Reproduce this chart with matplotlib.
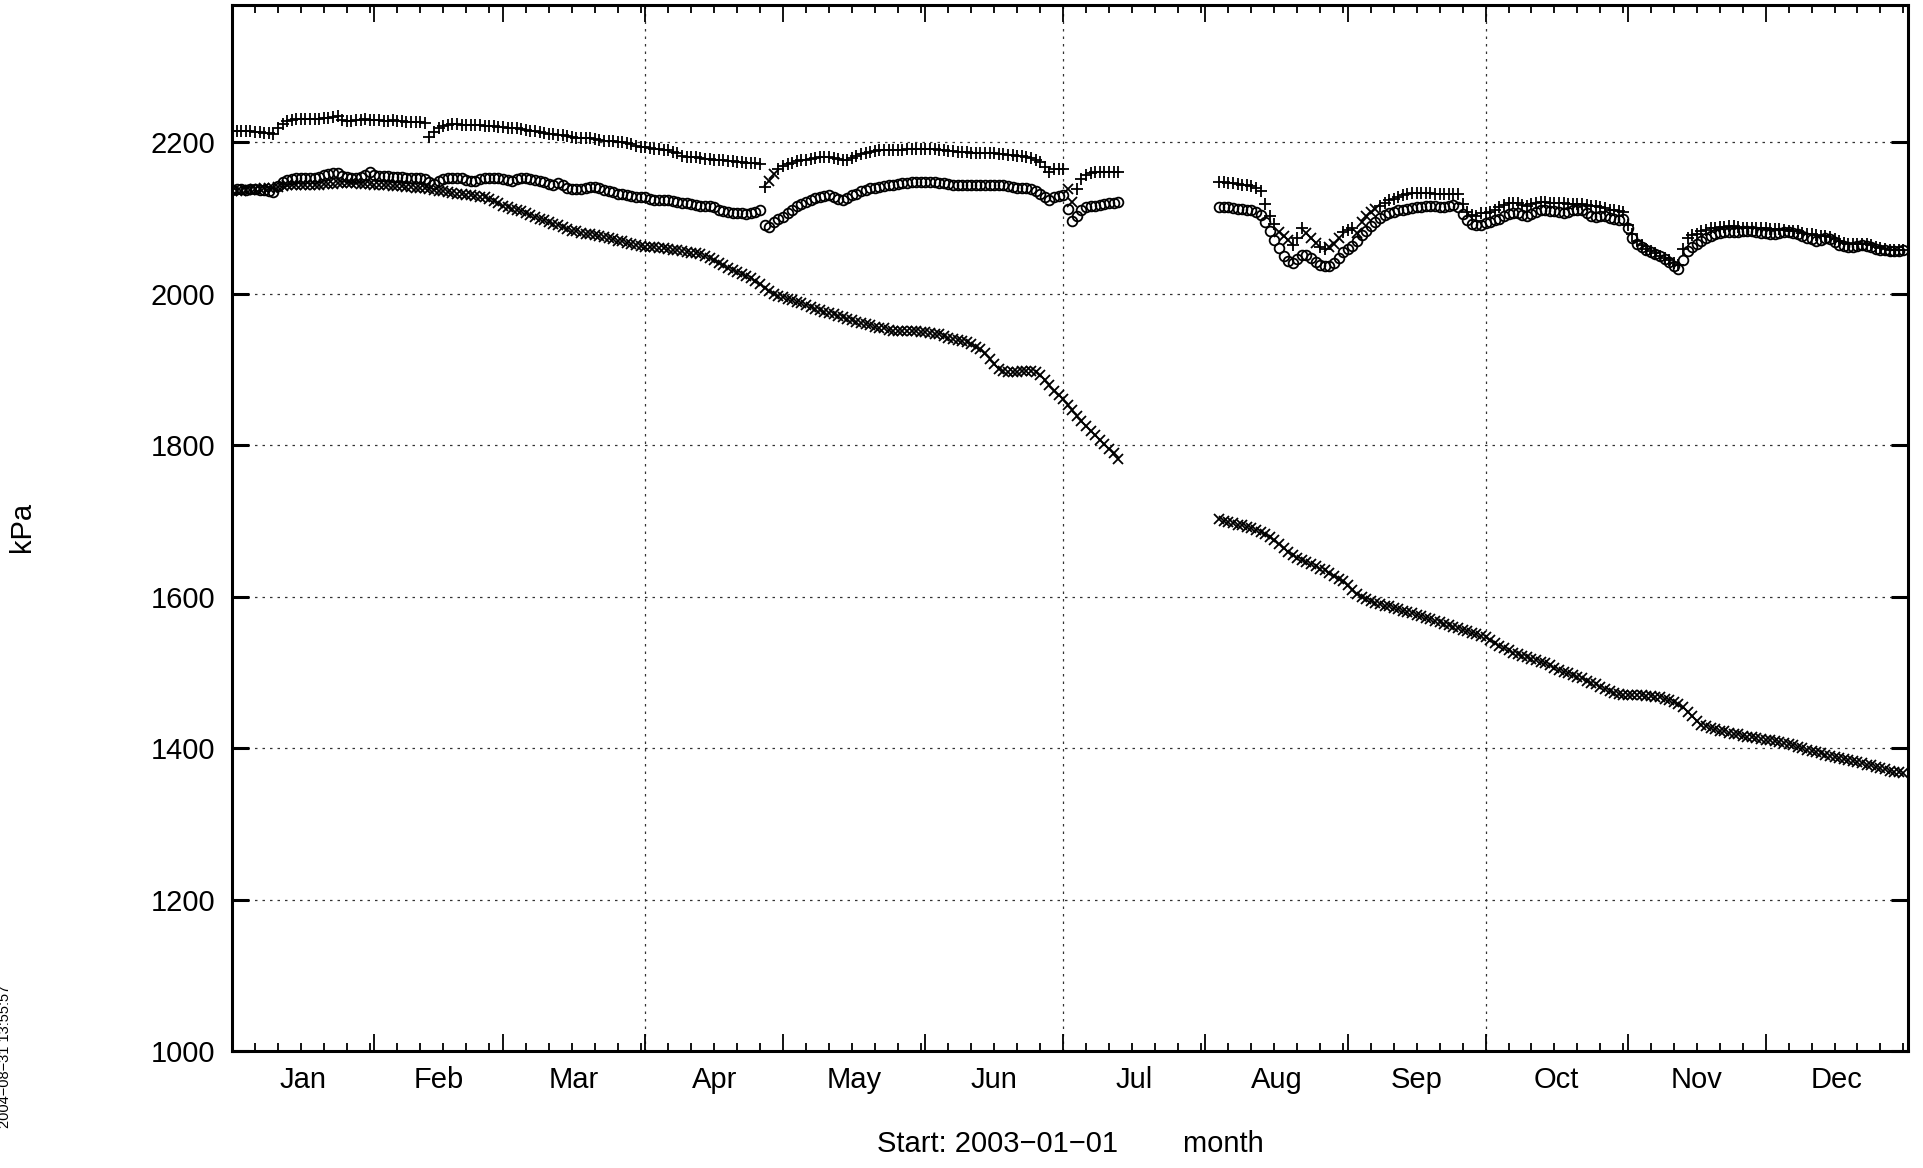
import numpy as np
import matplotlib
matplotlib.use("Agg")
import matplotlib.pyplot as plt
import matplotlib.dates as mdates
import matplotlib.transforms as mtransforms

plt.rcParams['font.family'] = ['Liberation Sans', 'DejaVu Sans']

N = None
# daily values, 2003-01-01 .. 2003-12-31
plus_series = (
    [2214, 2214, 2215, 2214, 2214, 2213, 2213, 2212, 2212, 2211, 2218, 2224, 2228, 2229, 2230, 2230, 2231, 2230, 2231, 2231, 2232, 2232, 2233, 2235, 2229, 2228, 2228, 2229, 2229, 2230, 2229]
    + [2229, 2229, 2228, 2228, 2229, 2228, 2228, 2227, 2227, 2227, 2226, 2225, 2207, 2213, 2218, 2221, 2223, 2224, 2224, 2223, 2222, 2222, 2223, 2222, 2221, 2221, 2221, 2220]
    + [2220, 2219, 2219, 2218, 2217, 2216, 2215, 2214, 2213, 2212, 2211, 2211, 2210, 2209, 2208, 2207, 2206, 2206, 2206, 2205, 2204, 2203, 2202, 2201, 2201, 2200, 2200, 2199, 2197, 2195, 2194]
    + [2193, 2192, 2191, 2191, 2190, 2189, 2187, 2185, 2182, 2180, 2180, 2180, 2179, 2178, 2178, 2177, 2176, 2176, 2175, 2175, 2174, 2174, 2173, 2172, 2172, 2171, 2141, N, N, 2165]
    + [2168, 2171, 2173, 2175, 2176, 2177, 2178, 2179, 2180, 2180, 2180, 2179, 2178, 2177, 2177, 2179, 2182, 2184, 2186, 2187, 2188, 2189, 2189, 2189, 2189, 2190, 2190, 2191, 2191, 2191, 2191]
    + [2191, 2191, 2191, 2190, 2189, 2188, 2188, 2187, 2187, 2187, 2186, 2186, 2186, 2186, 2185, 2185, 2184, 2184, 2183, 2183, 2182, 2181, 2180, 2179, 2177, 2174, 2167, 2160, 2165, 2165]
    + [2165, N, N, 2138, 2151, 2157, 2159, 2160, 2160, 2160, 2161, 2161, 2161] + [N] * 18
    + [N, N, N, 2147, 2147, 2146, 2146, 2145, 2144, 2143, 2142, 2140, 2136, 2118, 2103, 2092, N, N, N, 2064, 2074, 2087, N, N, N, 2062, 2059, N, N, N, 2081]
    + [2084, 2087, N, N, N, N, N, 2116, 2120, 2123, 2125, 2127, 2130, 2131, 2133, 2133, 2133, 2133, 2133, 2132, 2132, 2132, 2131, 2131, 2132, 2118, 2108, 2104, 2103, 2106]
    + [2106, 2108, 2111, 2114, 2117, 2119, 2119, 2119, 2117, 2115, 2118, 2120, 2121, 2121, 2120, 2120, 2120, 2119, 2118, 2118, 2118, 2118, 2117, 2115, 2115, 2114, 2113, 2111, 2110, 2109, 2108]
    + [2090, 2078, 2070, 2064, 2059, 2056, 2053, 2050, 2047, 2044, 2040, 2038, 2059, 2073, 2077, 2079, 2083, 2084, 2086, 2087, 2088, 2088, 2089, 2089, 2088, 2087, 2087, 2086, 2086, 2086]
    + [2086, 2085, 2085, 2085, 2084, 2083, 2083, 2082, 2080, 2079, 2078, 2077, 2076, 2076, 2075, 2072, 2069, 2067, 2066, 2066, 2066, 2065, 2065, 2064, 2062, 2060, 2059, 2058, 2058, 2058, 2057]
)

circle_series = (
    [2137, 2138, 2138, 2137, 2138, 2138, 2137, 2137, 2136, 2134, 2142, 2147, 2150, 2151, 2152, 2152, 2152, 2153, 2153, 2154, 2156, 2158, 2159, 2159, 2155, 2154, 2153, 2153, 2154, 2156, 2160]
    + [2156, 2155, 2155, 2155, 2154, 2154, 2154, 2153, 2153, 2153, 2152, 2151, 2147, 2145, 2148, 2151, 2153, 2153, 2153, 2152, 2150, 2149, 2149, 2151, 2153, 2153, 2153, 2152]
    + [2151, 2150, 2149, 2151, 2152, 2152, 2151, 2150, 2149, 2147, 2145, 2143, 2146, 2143, 2139, 2138, 2138, 2138, 2139, 2141, 2141, 2139, 2137, 2135, 2134, 2132, 2131, 2130, 2129, 2128, 2128]
    + [2127, 2125, 2124, 2124, 2123, 2123, 2122, 2121, 2120, 2119, 2118, 2117, 2116, 2115, 2115, 2114, 2111, 2109, 2108, 2107, 2106, 2106, 2105, 2106, 2108, 2110, 2090, 2088, 2094, 2098]
    + [2101, 2106, 2110, 2115, 2118, 2121, 2124, 2126, 2127, 2129, 2130, 2128, 2125, 2124, 2126, 2130, 2132, 2135, 2137, 2139, 2140, 2141, 2142, 2143, 2144, 2145, 2146, 2146, 2147, 2147, 2147]
    + [2147, 2147, 2147, 2146, 2146, 2145, 2144, 2144, 2143, 2143, 2143, 2143, 2143, 2143, 2143, 2143, 2143, 2143, 2142, 2141, 2140, 2140, 2139, 2138, 2136, 2132, 2127, 2124, 2127, 2129]
    + [2130, 2112, 2096, 2102, 2110, 2114, 2115, 2116, 2117, 2118, 2119, 2120, 2121] + [N] * 18
    + [N, N, N, 2114, 2114, 2114, 2113, 2112, 2112, 2111, 2110, 2108, 2104, 2095, 2082, 2071, 2060, 2050, 2043, 2040, 2046, 2051, 2051, 2047, 2042, 2038, 2036, 2037, 2040, 2047, 2055]
    + [2059, 2063, 2070, 2077, 2083, 2089, 2095, 2100, 2104, 2106, 2108, 2110, 2111, 2112, 2113, 2114, 2114, 2115, 2115, 2115, 2114, 2114, 2115, 2117, 2114, 2105, 2097, 2092, 2090, 2091]
    + [2093, 2095, 2097, 2099, 2102, 2105, 2106, 2106, 2104, 2103, 2105, 2108, 2110, 2110, 2109, 2109, 2108, 2106, 2108, 2110, 2110, 2110, 2106, 2102, 2101, 2102, 2103, 2100, 2098, 2097, 2099]
    + [2086, 2074, 2066, 2062, 2058, 2055, 2052, 2049, 2046, 2042, 2037, 2033, 2044, 2056, 2062, 2065, 2070, 2073, 2076, 2078, 2080, 2081, 2081, 2081, 2081, 2082, 2083, 2082, 2081, 2080]
    + [2080, 2079, 2079, 2080, 2081, 2081, 2080, 2078, 2076, 2074, 2072, 2070, 2071, 2073, 2072, 2068, 2064, 2063, 2062, 2062, 2063, 2064, 2063, 2061, 2059, 2058, 2057, 2056, 2056, 2056, 2057]
)

cross_series = (
    [2135, 2136, 2136, 2137, 2137, 2138, 2138, 2139, 2139, 2140, 2141, 2142, 2143, 2143, 2143, 2144, 2144, 2144, 2144, 2144, 2145, 2145, 2145, 2146, 2146, 2146, 2146, 2146, 2145, 2145, 2145]
    + [2144, 2144, 2143, 2143, 2142, 2142, 2142, 2141, 2141, 2140, 2140, 2139, 2138, 2137, 2136, 2135, 2134, 2133, 2132, 2131, 2130, 2130, 2129, 2128, 2127, 2125, 2122, 2119]
    + [2116, 2114, 2112, 2111, 2109, 2107, 2104, 2101, 2099, 2097, 2094, 2092, 2090, 2088, 2085, 2083, 2082, 2080, 2079, 2078, 2077, 2076, 2075, 2074, 2072, 2070, 2069, 2067, 2066, 2064, 2063]
    + [2062, 2062, 2061, 2060, 2060, 2059, 2058, 2057, 2056, 2055, 2054, 2053, 2052, 2050, 2047, 2044, 2041, 2038, 2034, 2031, 2028, 2026, 2023, 2020, 2016, 2012, 2008, 2004, 2000, 1997]
    + [1995, 1993, 1991, 1989, 1987, 1985, 1982, 1980, 1978, 1976, 1974, 1973, 1971, 1969, 1967, 1965, 1963, 1961, 1960, 1958, 1956, 1955, 1954, 1952, 1951, 1950, 1950, 1950, 1950, 1950, 1949]
    + [1949, 1948, 1947, 1946, 1944, 1941, 1940, 1939, 1937, 1936, 1933, 1930, 1927, 1921, 1914, 1907, 1901, 1898, 1897, 1896, 1897, 1898, 1898, 1898, 1896, 1892, 1886, 1879, 1872, 1866]
    + [1861, 1853, 1846, 1839, 1832, 1825, 1819, 1813, 1807, 1801, 1795, 1789, 1782] + [N] * 18
    + [N, N, N, 1702, 1700, 1698, 1697, 1695, 1694, 1692, 1690, 1688, 1685, 1682, 1678, 1674, 1670, 1664, 1659, 1655, 1651, 1648, 1646, 1643, 1640, 1637, 1635, 1631, 1627, 1623, 1620]
    + [1615, 1609, 1604, 1600, 1597, 1594, 1592, 1590, 1588, 1587, 1585, 1583, 1581, 1580, 1578, 1576, 1574, 1572, 1570, 1568, 1566, 1564, 1562, 1560, 1558, 1556, 1554, 1552, 1550, 1548]
    + [1547, 1543, 1539, 1535, 1532, 1529, 1526, 1524, 1522, 1520, 1518, 1516, 1514, 1512, 1509, 1506, 1503, 1501, 1499, 1497, 1494, 1492, 1489, 1486, 1484, 1481, 1478, 1475, 1472, 1471, 1470]
    + [1470, 1470, 1470, 1470, 1469, 1469, 1468, 1467, 1465, 1463, 1461, 1458, 1454, 1448, 1442, 1436, 1431, 1429, 1427, 1425, 1423, 1422, 1420, 1419, 1418, 1416, 1415, 1414, 1413, 1412]
    + [1411, 1410, 1409, 1408, 1406, 1405, 1404, 1402, 1400, 1398, 1396, 1395, 1393, 1391, 1390, 1388, 1387, 1385, 1384, 1383, 1382, 1380, 1378, 1377, 1375, 1373, 1372, 1370, 1369, 1368, 1367]
)

# scattered x-marked readings near the upper curve
extra_dates = ['2003-04-28', '2003-04-29', '2003-07-02', '2003-07-03',
               '2003-08-17', '2003-08-18', '2003-08-19', '2003-08-23', '2003-08-24', '2003-08-25',
               '2003-08-28', '2003-08-29', '2003-08-30',
               '2003-09-03', '2003-09-04', '2003-09-05', '2003-09-06', '2003-09-07']
extra_values = [2149, 2158, 2138, 2121,
                2081, 2076, 2071, 2080, 2074, 2067,
                2062, 2066, 2074,
                2080, 2095, 2102, 2108, 2112]

month_names = ['Jan', 'Feb', 'Mar', 'Apr', 'May', 'Jun', 'Jul', 'Aug', 'Sep', 'Oct', 'Nov', 'Dec']
y_ticks = [1000, 1200, 1400, 1600, 1800, 2000, 2200]
grid_dates = ['2003-04-01', '2003-07-01', '2003-10-01']

days = np.arange('2003-01-01', '2004-01-01', dtype='datetime64[D]')
def arr(lst):
    a = np.array([np.nan if v is None else v for v in lst], dtype=float)
    n = len(days)
    if len(a) < n:
        a = np.concatenate([a, np.full(n - len(a), np.nan)])
    return a[:n]

def dnum(a):
    return mdates.date2num(np.asarray(a, dtype='datetime64[D]').astype('datetime64[s]').astype(object))

P = arr(plus_series)
C = arr(circle_series)
X = arr(cross_series)
xd = dnum(days)

W, H = 1923, 1168
fig = plt.figure(figsize=(W / 100, H / 100), dpi=100)
L, R, T, B = 232, 1908, 5, 1051
ax = fig.add_axes([L / W, 1 - B / H, (R - L) / W, (B - T) / H])

mk = dict(linestyle='none', color='black', markeredgewidth=1.3, clip_on=True)
ax.plot(xd, P, marker='+', markersize=8, **mk)
ax.plot(xd, X, marker='x', markersize=6.5, **mk)
ax.plot(xd, C, marker='o', markersize=7, markerfacecolor='none', **mk)
ax.plot(dnum(extra_dates), extra_values, marker='x', markersize=6.5, **mk)

x0 = float(dnum(['2003-01-01'])[0])
x1 = float(dnum(['2004-01-01'])[0])
ax.set_xlim(x0, x1)
ax.set_ylim(1000, 2381)

# ticks
month_starts = np.arange('2003-01', '2004-01', dtype='datetime64[M]').astype('datetime64[D]')
ms = dnum(month_starts)
minor = []
for m in month_starts:
    for d in (5, 10, 15, 20, 25, 30):
        dd = m + np.timedelta64(d, 'D')
        if dd.astype('datetime64[M]') == m.astype('datetime64[M]'):
            minor.append(dd)
mn = dnum(minor)
ax.set_xticks(ms[1:])
ax.set_xticks(mn, minor=True)
ax.set_xticklabels([])
ax.set_yticks(y_ticks)
ax.set_yticklabels([str(v) for v in y_ticks], fontsize=21)
ax.tick_params(axis='x', which='major', direction='in', length=12, width=1.3, top=True, bottom=True)
ax.tick_params(axis='x', which='minor', direction='in', length=6, width=1.3, top=True, bottom=True)
ax.tick_params(axis='y', which='major', direction='in', length=12, width=2.2, left=True, right=True, pad=12)
for s in ax.spines.values():
    s.set_linewidth(2.2)

# grid
for y in y_ticks[1:]:
    ax.axhline(y, color='#333333', linewidth=0.9, linestyle=(0, (2, 4)), zorder=0)
for gx in dnum(grid_dates):
    ax.axvline(gx, color='#333333', linewidth=0.9, linestyle=(0, (2, 4)), zorder=0)

# month labels at mid-month
bounds = list(ms) + [x1]
trans = mtransforms.blended_transform_factory(ax.transData, fig.transFigure)
for i, name in enumerate(month_names):
    mid = (bounds[i] + bounds[i + 1]) / 2
    ax.text(mid, 1 - 1080 / H, name, transform=trans, ha='center', va='center', fontsize=21)

fig.text(1070 / W, 1 - 1144 / H, 'Start: 2003\u221201\u221201        month', ha='center', va='center', fontsize=21)
fig.text(22 / W, 1 - 527 / H, 'kPa', rotation=90, ha='center', va='center', fontsize=21)
fig.text(5 / W, 1 - 1128 / H, '2004\u221208\u221231 13:55:57', rotation=90, ha='center', va='bottom', fontsize=10.5)

fig.savefig('out.png', dpi=100)
